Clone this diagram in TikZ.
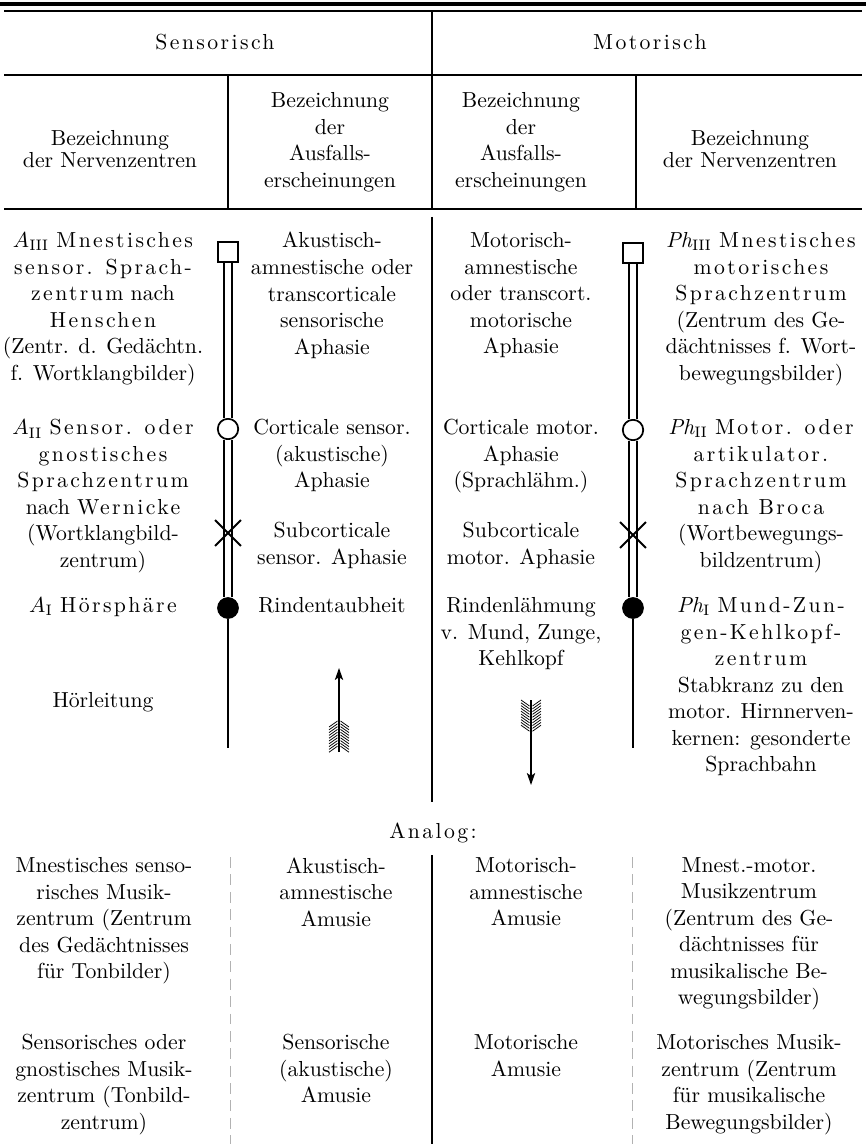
\documentclass[tikz,border=0pt]{standalone}
\usepackage{fontspec}
\setmainfont{Latin Modern Roman}
\usepackage{tikz}
\usetikzlibrary{arrows.meta,shapes.misc}

\newcommand{\gesp}[1]{{\addfontfeature{LetterSpace=11}#1}}

\tikzset{
  txt/.style={align=center,anchor=north,inner sep=0pt,font=\fontsize{10}{12.2}\selectfont},
  tighttxt/.style={txt,font=\fontsize{10}{8.3}\selectfont},
  hrule/.style={line width=0.5pt},
  mainrule/.style={line width=1.1pt},
  faint/.style={black!30,line width=0.4pt,dash pattern=on 5pt off 3pt},
  dblline/.style={double,double distance=2.6pt,line width=0.8pt},
  sqbox/.style={draw,fill=white,line width=0.8pt,minimum size=9.4pt,inner sep=0pt},
  ring/.style={draw,circle,fill=white,line width=0.8pt,minimum size=9.4pt,inner sep=0pt},
  knob/.style={circle,fill,minimum size=10pt,inner sep=0pt},
  cutmark/.style={draw,cross out,line width=0.9pt,minimum size=11pt,inner sep=0pt},
  shaft/.style={line width=0.7pt,-{Stealth[length=5.5pt,width=3.8pt,inset=1.3pt]}},
  barb/.style={line width=0.35pt},
}

\begin{document}
\begin{tikzpicture}[x=0.46pt,y=-0.46pt]
  \useasboundingbox (0,0) rectangle (866,1144);

  % rules of the table
  \draw[line width=1.4pt] (0,4) -- (866,4);
  \draw[hrule] (4,11) -- (862,11);
  \draw[hrule] (4,75) -- (862,75);
  \draw[hrule] (4,209) -- (862,209);
  \draw[hrule] (228,75) -- (228,209);
  \draw[hrule] (636,75) -- (636,209);
  \draw[mainrule] (432,11) -- (432,208);
  \draw[mainrule] (432,217) -- (432,802);
  \draw[mainrule] (432,855) -- (432,1144);
  \draw[faint] (230,857) -- (230,1144);
  \draw[faint] (632,857) -- (632,1144);

  % head
  \node[txt] (hsen) at (215,34) {\gesp{Sensorisch}};
  \node[txt] (hmot) at (650,34) {\gesp{Motorisch}};
  \node[tighttxt] (hzs) at (110,130) {Bezeichnung\\der Nervenzentren};
  \node[txt] (has) at (330,92) {Bezeichnung\\der\\Ausfalls-\\erscheinungen};
  \node[txt] (ham) at (521,92) {Bezeichnung\\der\\Ausfalls-\\erscheinungen};
  \node[tighttxt] (hzm) at (750,130) {Bezeichnung\\der Nervenzentren};

  % sensorisch
  \node[txt] (zs3) at (103,232) {$A_{\mathrm{III}}$ \gesp{Mnestisches}\\\gesp{sensor. Sprach-}\\\gesp{zentrum} nach\\\gesp{Henschen}\\(Zentr. d. Gedächtn.\\f. Wortklangbilder)};
  \node[txt] (as3) at (332,232) {Akustisch-\\amnestische oder\\transcorticale\\sensorische\\Aphasie};
  \node[txt] (zs2) at (103,419) {$A_{\mathrm{II}}$ \gesp{Sensor. oder}\\\gesp{gnostisches}\\\gesp{Sprachzentrum}\\nach \gesp{Wernicke}\\(Wortklangbild-\\zentrum)};
  \node[txt] (as2) at (332,419) {Corticale sensor.\\(akustische)\\Aphasie};
  \node[txt] (asx) at (332,522) {Subcorticale\\sensor. Aphasie};
  \node[txt] (zs1) at (103,597) {$A_{\mathrm{I}}$ \gesp{Hörsphäre}};
  \node[txt] (as1) at (332,597) {Rindentaubheit};
  \node[txt] (hl) at (103,692) {Hörleitung};

  % motorisch
  \node[txt] (am3) at (521,232) {Motorisch-\\amnestische\\oder transcort.\\motorische\\Aphasie};
  \node[txt] (zm3) at (761,232) {$\mathit{Ph}_{\mathrm{III}}$ \gesp{Mnestisches}\\\gesp{motorisches}\\\gesp{Sprachzentrum}\\(Zentrum des Ge-\\dächtnisses f. Wort-\\bewegungsbilder)};
  \node[txt] (am2) at (521,419) {Corticale motor.\\Aphasie\\(Sprachlähm.)};
  \node[txt] (amx) at (521,522) {Subcorticale\\motor. Aphasie};
  \node[txt] (zm2) at (761,419) {$\mathit{Ph}_{\mathrm{II}}$ \gesp{Motor. oder}\\\gesp{artikulator.}\\\gesp{Sprachzentrum}\\\gesp{nach Broca}\\(Wortbewegungs-\\bildzentrum)};
  \node[txt] (am1) at (521,597) {Rindenlähmung\\v. Mund, Zunge,\\Kehlkopf};
  \node[txt] (zm1) at (761,597) {$\mathit{Ph}_{\mathrm{I}}$ \gesp{Mund-Zun-}\\\gesp{gen-Kehlkopf-}\\\gesp{zentrum}\\Stabkranz zu den\\motor. Hirnnerven-\\kernen: gesonderte\\Sprachbahn};

  % sensory chain
  \node[sqbox] (sqS) at (228,252) {};
  \node[ring] (riS) at (228,429) {};
  \node[knob] (knS) at (228,608) {};
  \coordinate (enS) at (228,748);
  \draw[dblline] (sqS) -- (riS);
  \draw[dblline] (riS) -- (knS);
  \draw[line width=0.8pt] (knS) -- (enS);
  \node[cutmark] (xS) at (228,533) {};

  % motor chain
  \node[sqbox] (sqM) at (633,253) {};
  \node[ring] (riM) at (633,430) {};
  \node[knob] (knM) at (633,608) {};
  \coordinate (enM) at (633,748);
  \draw[dblline] (sqM) -- (riM);
  \draw[dblline] (riM) -- (knM);
  \draw[line width=0.8pt] (knM) -- (enM);
  \node[cutmark] (xM) at (633,535) {};

  % arrows
  \coordinate (upA) at (339,752);
  \coordinate (upB) at (339,668);
  \draw[shaft] (upA) -- (upB);
  \foreach \k in {0,...,9}{
    \draw[barb] (337.5,721+2.8*\k) -- (329,727+2.8*\k);
    \draw[barb] (340.5,721+2.8*\k) -- (349,727+2.8*\k);
  }
  \coordinate (dnA) at (531,700);
  \coordinate (dnB) at (531,785);
  \draw[shaft] (dnA) -- (dnB);
  \foreach \k in {0,...,9}{
    \draw[barb] (529.5,706+2.8*\k) -- (521,700+2.8*\k);
    \draw[barb] (532.5,706+2.8*\k) -- (541,700+2.8*\k);
  }

  % analog
  \node[txt] (anl) at (433,822) {\gesp{Analog:}};
  \node[txt] (ms1) at (104,857) {Mnestisches senso-\\risches Musik-\\zentrum (Zentrum\\des Gedächtnisses\\für Tonbilder)};
  \node[txt] (ma1) at (336,857) {Akustisch-\\amnestische\\Amusie};
  \node[txt] (mm1) at (526,857) {Motorisch-\\amnestische\\Amusie};
  \node[txt] (mz1) at (749,857) {Mnest.-motor.\\Musikzentrum\\(Zentrum des Ge-\\dächtnisses für\\musikalische Be-\\wegungsbilder)};
  \node[txt] (ms2) at (104,1034) {Sensorisches oder\\gnostisches Musik-\\zentrum (Tonbild-\\zentrum)};
  \node[txt] (ma2) at (336,1034) {Sensorische\\(akustische)\\Amusie};
  \node[txt] (mm2) at (526,1034) {Motorische\\Amusie};
  \node[txt] (mz2) at (749,1034) {Motorisches Musik-\\zentrum (Zentrum\\für musikalische\\Bewegungsbilder)};
\end{tikzpicture}
\end{document}
